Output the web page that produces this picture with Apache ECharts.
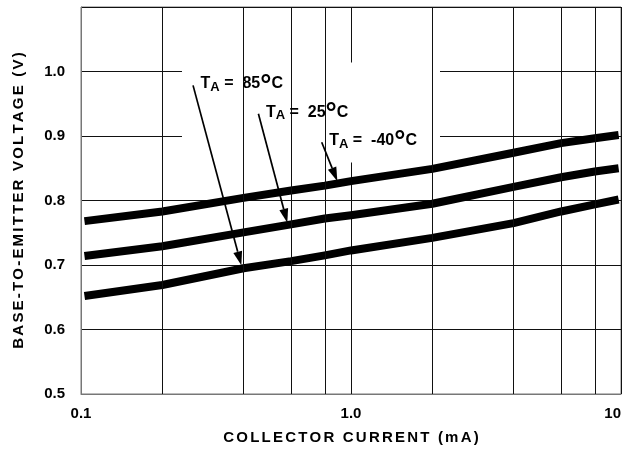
<!DOCTYPE html>
<html><head><meta charset="utf-8">
<script src="https://cdn.jsdelivr.net/npm/echarts@6/dist/echarts.min.js"></script>
<style>html,body{margin:0;padding:0;background:#fff}#c{width:628px;height:451px}</style>
</head><body><div id="c"></div>
<script>
// ---- data ----
const currents   = [0.103, 0.2, 0.4, 0.6, 0.8, 1.0, 2.0, 4.0, 6.0, 8.0, 9.8];
const vbeMinus40 = [0.768, 0.783, 0.804, 0.8155, 0.823, 0.830, 0.849, 0.874, 0.889, 0.8966, 0.9015];
const vbe25      = [0.714, 0.729, 0.7505, 0.763, 0.772, 0.777, 0.795, 0.821, 0.836, 0.845, 0.850];
const vbe85      = [0.652, 0.669, 0.695, 0.706, 0.715, 0.7226, 0.742, 0.765, 0.783, 0.794, 0.8015];
const seriesNames = ['TA = -40°C', 'TA = 25°C', 'TA = 85°C'];
const labelTemps  = ['-40', '25', '85'];
const xTickLabels = ['0.1', '1.0', '10'];
const xMinorGrid  = [0.2, 0.4, 0.6, 0.8, 2, 4, 6, 8];
const yTickMax    = 1.0;
// annotation arrows in data coordinates [current, voltage]
const arrowStart = [[0.779, 0.8904], [0.454, 0.9346], [0.260, 0.9785]];
const arrowEnd   = [[0.890, 0.8300], [0.581, 0.7655], [0.3925, 0.6995]];
const clearBox   = [[0.2366, 1.0138], [2.136, 0.859]];

const FONT = '"Liberation Sans", Arial, Helvetica, sans-serif';
function spaced(str){ return str.split('').map(ch => '{s|' + ch + '}').join(''); }

const chart = echarts.init(document.getElementById('c'), null, {renderer: 'canvas'});
const vals = [vbeMinus40, vbe25, vbe85];
const titleRich = {s: {fontSize: 15, fontWeight: 'bold', color: '#000', fontFamily: FONT, padding: [0, 1.1, 0, 1.1]}};

const option = {
  animation: false,
  backgroundColor: '#fff',
  grid: {left: 81, right: 7, top: 7, bottom: 57, show: true, borderColor: '#777', borderWidth: 1, backgroundColor: '#fff'},
  xAxis: {
    type: 'log', logBase: 10, min: 0.1, max: 10,
    axisLine: {show: true, lineStyle: {color: '#777', width: 1}},
    axisTick: {show: false},
    axisLabel: {fontSize: 15, fontWeight: 'bold', color: '#000', fontFamily: FONT, margin: 12,
      formatter: (v, i) => xTickLabels[i], alignMaxLabel: 'right'},
    splitLine: {show: true, lineStyle: {color: '#111', width: 1}},
    name: spaced('COLLECTOR CURRENT (mA)'), nameLocation: 'middle', nameGap: 36,
    nameTextStyle: {rich: titleRich}
  },
  yAxis: {
    type: 'value', min: 0.5, max: 1.1, interval: 0.1,
    axisLine: {show: true, lineStyle: {color: '#777', width: 1}},
    axisTick: {show: false},
    axisLabel: {fontSize: 15, fontWeight: 'bold', color: '#000', fontFamily: FONT, margin: 16,
      formatter: v => v > yTickMax + 1e-6 ? '' : v.toFixed(1)},
    splitLine: {show: true, lineStyle: {color: '#111', width: 1}},
    name: spaced('BASE-TO-EMITTER VOLTAGE (V)'), nameLocation: 'middle', nameGap: 55, nameRotate: 90,
    nameTextStyle: {rich: titleRich}
  },
  series: [
    {type: 'line', name: 'grid', data: [], z: 1, silent: true,
     markLine: {silent: true, symbol: 'none', animation: false, label: {show: false},
       lineStyle: {color: '#111', width: 1, type: 'solid'},
       emphasis: {disabled: true},
       data: xMinorGrid.map(v => ({xAxis: v}))}}
  ].concat(vals.map((arr, k) => ({
    type: 'line', name: seriesNames[k], z: 3, silent: true,
    showSymbol: false, symbol: 'none',
    lineStyle: {color: '#000', width: 8, cap: 'butt', join: 'round'},
    data: currents.map((c, i) => [c, arr[i]])
  })))
};
chart.setOption(option);

const P = p => chart.convertToPixel({gridIndex: 0}, p);
const g = [];
const b0 = P(clearBox[0]), b1 = P(clearBox[1]);
g.push({type: 'rect', z: 2, silent: true, shape: {x: b0[0], y: b0[1], width: b1[0] - b0[0], height: b1[1] - b0[1]}, style: {fill: '#fff'}});
const HL = 14, HW = 4.5;
for (let k = 0; k < 3; k++) {
  const s = P(arrowStart[k]), e = P(arrowEnd[k]);
  const dx = e[0] - s[0], dy = e[1] - s[1], L = Math.hypot(dx, dy);
  const ux = dx / L, uy = dy / L, nx = -uy, ny = ux;
  const bx = e[0] - ux * HL, by = e[1] - uy * HL;
  g.push({type: 'line', z: 5, silent: true, shape: {x1: s[0], y1: s[1], x2: bx, y2: by}, style: {stroke: '#000', lineWidth: 1.7}});
  g.push({type: 'polygon', z: 5, silent: true, shape: {points: [[e[0], e[1]], [bx + nx * HW, by + ny * HW], [bx - nx * HW, by - ny * HW]]}, style: {fill: '#000'}});
  g.push({type: 'text', z: 5, silent: true, x: s[0] + 7.5, y: s[1] - 1.5,
    style: {text: '{t|T}{a|A}{t| =  ' + labelTemps[k] + '}{d|°}{t|C}', align: 'left', verticalAlign: 'middle',
      rich: {
        t: {fontSize: 16, fontWeight: 'bold', fontFamily: FONT, fill: '#000', verticalAlign: 'middle'},
        a: {fontSize: 13, fontWeight: 'bold', fontFamily: FONT, fill: '#000', verticalAlign: 'middle', padding: [7, 0, 0, 0]},
        d: {fontSize: 28, fontWeight: 'bold', fontFamily: FONT, fill: '#000', verticalAlign: 'middle', padding: [4, 0, 0, 0]}
      }}});
}
chart.setOption({graphic: g});
</script></body></html>
